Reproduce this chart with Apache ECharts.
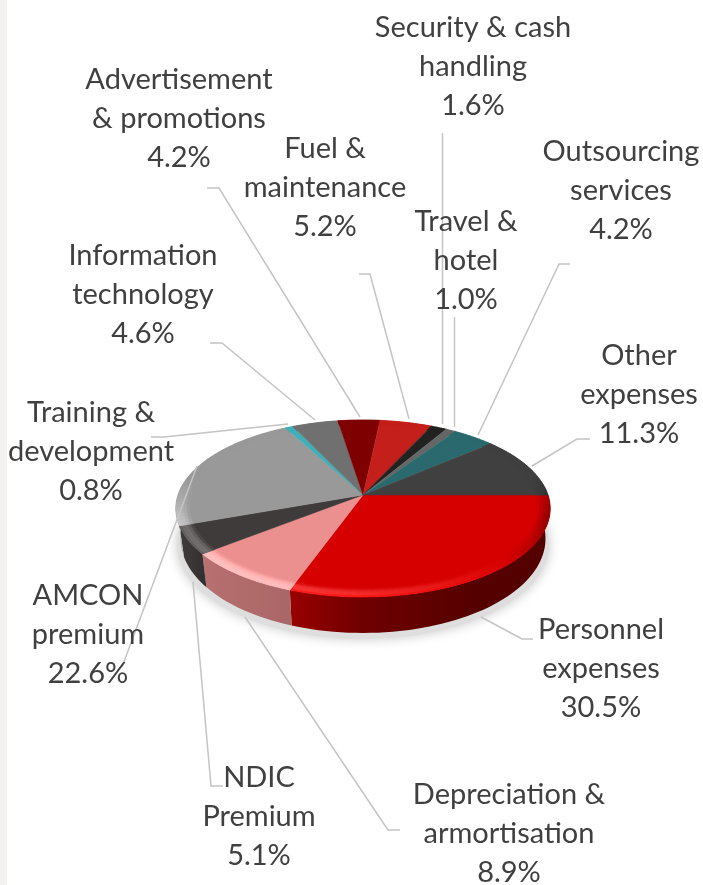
<!DOCTYPE html>
<html>
<head>
<meta charset="utf-8">
<style>
html,body{margin:0;padding:0;background:#fff;width:703px;height:885px;overflow:hidden}
#strip{position:absolute;left:0;top:0;width:7px;height:885px;background:#f3f0ed}
#chart{position:absolute;left:0;top:0;width:703px;height:885px}
</style>
<script src="https://cdn.jsdelivr.net/npm/echarts@6/dist/echarts.min.js"></script>
</head>
<body>
<div id="strip"></div>
<div id="chart"></div>
<script>
// ---- data (clockwise from 3 o'clock) ----
var categories = ['Personnel\nexpenses','Depreciation &\narmortisation','NDIC\nPremium','AMCON\npremium','Training &\ndevelopment','Information\ntechnology','Advertisement\n& promotions','Fuel &\nmaintenance','Security & cash\nhandling','Travel &\nhotel','Outsourcing\nservices','Other\nexpenses'];
var values = [30.5,8.9,5.1,22.6,0.8,4.6,4.2,5.2,1.6,1.0,4.2,11.3];

// ---- styles ----
var sliceColors = ['#d60000','#ec8f8f','#3f3b3a','#999999','#3fb0b8','#707070','#7f0000','#c41f1a','#222220','#666666','#2a6a6e','#404040'];
var textColor = '#404040', leaderColor = '#c4c4c4', fontFamily = 'Lato', fontSize = 29, lineH = 39;

// ---- layout ----
var disc = {cx:363, cy:495, R:185, S:86.4, k:0.1525, depth0:29, depth1:7, bottomScale:0.975};
var labelCenters = [[601,669],[509,834],[259,817],[88,635],[91,452],[143,295],[179,119],[325,188],[473,67],[466,261],[621,191],[639,395]];
var leaderPaths = [
 [[481,617],[522,639],[533,639]],
 [[245,617],[388,830],[400,830]],
 [[193,582],[211,786],[223,786]],
 [[197,466],[122,667]],
 [[288,424],[164,437],[151,437]],
 [[315,420],[222,343],[210,343]],
 [[360,417],[219,188],[207,188]],
 [[409,419],[370,274],[359,274]],
 [[442.5,424],[442.5,133]],
 [[454.5,427],[454.5,317]],
 [[478,435],[559,264],[570,264]],
 [[532,466],[577,439],[590,439]]
];

function rad(d){return d*Math.PI/180;}
function project(theta,r){
  var u=r*Math.cos(rad(theta)), v=r*Math.sin(rad(theta)), f=1/(1-disc.k*v);
  return [disc.cx+disc.R*u*f, disc.cy+disc.S*v*f];
}
function bottom(theta){
  var p=project(theta,1), v=Math.sin(rad(theta));
  return [disc.cx+(p[0]-disc.cx)*disc.bottomScale, p[1]+disc.depth0+disc.depth1*v];
}
function hex(c){return [parseInt(c.substr(1,2),16),parseInt(c.substr(3,2),16),parseInt(c.substr(5,2),16)];}
function shade(c,m,w){ // multiply, then add white share
  var a=hex(c);
  return 'rgb('+a.map(function(x){return Math.max(0,Math.min(255,Math.round(x*m+(255-x*m)*(w||0))));}).join(',')+')';
}
function lerpTable(t,x){
  if(x<=t[0][0])return t[0][1];
  for(var i=1;i<t.length;i++){ if(x<=t[i][0]) return t[i-1][1]+(t[i][1]-t[i-1][1])*(x-t[i-1][0])/(t[i][0]-t[i-1][0]); }
  return t[t.length-1][1];
}
var wallTable=[[-10,0.38],[60,0.4],[90,0.52],[110,0.72],[140,0.78],[150,0.95],[165,1.0],[186,1.15]];
var WALL_END=186;
function sliceRange(i){
  var sum=0,tot=0,j; for(j=0;j<values.length;j++)tot+=values[j];
  for(j=0;j<i;j++)sum+=values[j];
  return [sum/tot*360,(sum+values[i])/tot*360];
}
var STEP=2;
function steps(a,b){var r=[],t=a;while(t<b){r.push(t);t+=STEP;}r.push(b);return r;}

function renderWall(params,api){
  var i=params.dataIndex, rg=sliceRange(i), base=sliceColors[i];
  var a=rg[0],b=Math.min(rg[1],WALL_END);
  if(a>=WALL_END) return {type:'group',children:[]};
  var ts=steps(a,b), pts=[], back=[], stops=[];
  var x0=project(a,1)[0], x1=project(b,1)[0];
  ts.forEach(function(t){pts.push(project(t,1));back.unshift(bottom(t));});
  ts.forEach(function(t){
    var o=(x1===x0)?0:(project(t,1)[0]-x0)/(x1-x0);
    stops.push({offset:Math.max(0,Math.min(1,o)),color:shade(base,lerpTable(wallTable,t))});
  });
  stops.sort(function(p,q){return p.offset-q.offset;});
  var grad={type:'linear',x:x0,y:0,x2:x1,y2:0,global:true,colorStops:stops};
  return {type:'polygon',shape:{points:pts.concat(back)},style:{fill:grad},silent:true};
}
var bevelLayers=[0.93,0.945,0.96,0.975,0.99,1.0];
function renderTop(params,api){
  var i=params.dataIndex, rg=sliceRange(i), base=sliceColors[i], ch=[];
  var ts=steps(rg[0],rg[1]), pts=[[disc.cx,disc.cy]];
  ts.forEach(function(t){pts.push(project(t,1));});
  ch.push({type:'polygon',shape:{points:pts},style:{fill:base,stroke:base,lineWidth:0.4},silent:true});
  for(var n=0;n<ts.length-1;n++){
    var t0=ts[n],t1=ts[n+1],tm=(t0+t1)/2,sv=Math.sin(rad(tm));
    var front=Math.max(0,Math.min(1,(sv+0.2)/0.5));
    var L=Math.cos(rad(tm-135));
    for(var l=0;l<bevelLayers.length-1;l++){
      var frac=(l+0.5)/(bevelLayers.length-1),m=1,w=0;
      if(L>0){m=1+0.3*L*front*frac; w=0.24*L*front*Math.sin(frac*Math.PI*0.9);}
      else {m=1+0.62*L*front*frac*1.3; }
      var col=shade(base,m,w);
      ch.push({type:'polygon',shape:{points:[project(t0,bevelLayers[l]),project(t1,bevelLayers[l]),project(t1,bevelLayers[l+1]),project(t0,bevelLayers[l+1])]},
        style:{fill:col,stroke:col,lineWidth:0.6},silent:true});
    }
  }
  return {type:'group',children:ch};
}
function renderGround(params,api){
  var pts=[];
  for(var t=0;t<360;t+=4){var p=bottom(t);pts.push([disc.cx+(p[0]-disc.cx)*1.02,p[1]+6]);}
  return {type:'polygon',shape:{points:pts},style:{fill:'#dedede',shadowColor:'rgba(0,0,0,0.22)',shadowBlur:12},silent:true};
}
function renderLeader(params,api){
  return {type:'polyline',shape:{points:leaderPaths[params.dataIndex]},style:{stroke:leaderColor,lineWidth:1.5,fill:null},silent:true};
}
function renderLabel(params,api){
  var i=params.dataIndex,c=labelCenters[i];
  return {type:'text',x:c[0],y:c[1],style:{text:categories[i]+'\n'+values[i].toFixed(1)+'%',fill:textColor,font:fontSize+'px '+fontFamily,lineHeight:lineH,align:'center',verticalAlign:'middle'},silent:true};
}
var chart=echarts.init(document.getElementById('chart'),null,{renderer:'canvas'});
function series(fn,z,data){return {type:'custom',coordinateSystem:'none',renderItem:fn,data:data,z:z,animation:false,silent:true};}
chart.setOption({
  backgroundColor:'transparent',
  animation:false,
  series:[
    series(renderGround,1,[0]),
    series(renderWall,2,values),
    series(renderTop,3,values),
    series(renderLeader,4,values),
    series(renderLabel,5,values)
  ]
});
</script>
</body>
</html>
